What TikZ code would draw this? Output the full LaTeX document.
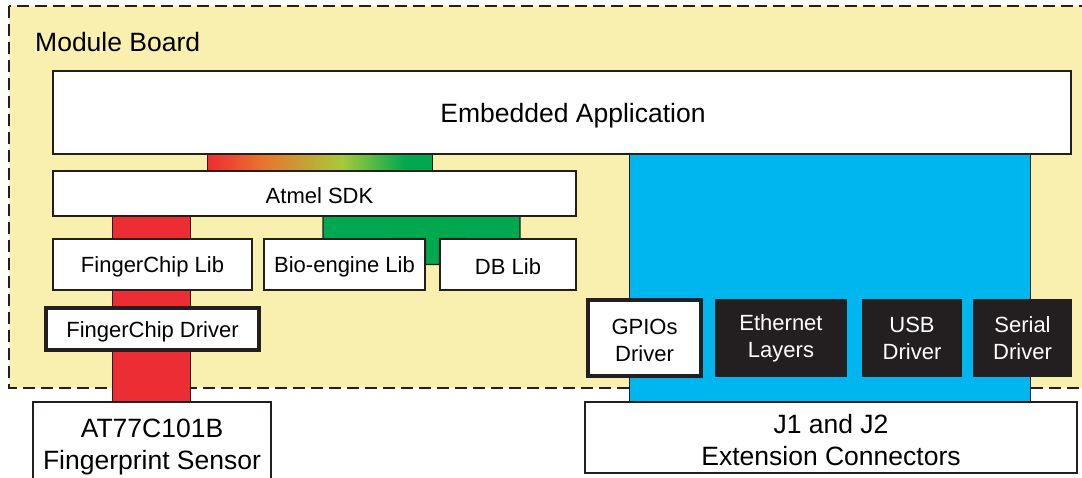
\documentclass[tikz,border=0pt]{standalone}
\usepackage{fontspec}
\setmainfont{Liberation Sans}
\usetikzlibrary{backgrounds}

\definecolor{boardyellow}{HTML}{F9F0B0}
\definecolor{ifblue}{HTML}{00B6EF}
\definecolor{fpred}{HTML}{EC2D33}
\definecolor{fporange}{HTML}{E8732F}
\definecolor{fplime}{HTML}{A6CA3A}
\definecolor{fpgreen}{HTML}{00A84F}
\definecolor{inkdark}{HTML}{231F20}

% shading is fitted to the middle half (25bp..75bp)
\pgfdeclarehorizontalshading{sdkgrad}{100bp}{color(0bp)=(fpred); color(25bp)=(fpred); color(37bp)=(fporange); color(55bp)=(fplime); color(69bp)=(fpgreen); color(75bp)=(fpgreen); color(100bp)=(fpgreen)}

% raises the first line of a box text
\newcommand{\bigtop}{\rule{0pt}{25pt}}
\newcommand{\smalltop}{\rule{0pt}{21pt}}

\tikzset{
  bigtext/.style={font=\fontsize{26.5}{32}\selectfont},
  smalltext/.style={font=\fontsize{22}{27}\selectfont},
  swbox/.style={shape=rectangle,draw=inkdark,fill=white,line width=1.2pt,align=center,inner sep=0pt},
  drvbox/.style={swbox,line width=4pt},
  hwbox/.style={shape=rectangle,fill=inkdark,text=white,align=center,inner sep=0pt},
  band/.style={draw=inkdark,line width=1.2pt}
}

\begin{document}
\begin{tikzpicture}[x=1pt,y=-1pt]
\useasboundingbox (0,0) rectangle (1082,478);

\node[swbox,bigtext,minimum width=1018pt,minimum height=83pt] (app) at (562,112.5) {\bigtop\hspace*{22pt}Embedded Application};
\node[swbox,smalltext,minimum width=523pt,minimum height=45pt] (sdk) at (314.5,193.5) {\smalltop\hspace*{10pt}Atmel SDK};
\node[swbox,smalltext,minimum width=199pt,minimum height=51pt] (fclib) at (152.5,264.5) {\smalltop FingerChip Lib};
\node[swbox,smalltext,minimum width=161pt,minimum height=51pt] (bio) at (344.5,264.5) {\smalltop Bio-engine Lib};
\node[swbox,smalltext,minimum width=136pt,minimum height=51pt] (db) at (508,264.5) {\smalltop DB Lib};
\node[drvbox,smalltext,minimum width=213pt,minimum height=42pt] (fcdrv) at (152.5,329) {\smalltop FingerChip Driver};
\node[swbox,bigtext,minimum width=238pt,minimum height=84pt] (sensor) at (152,444) {\bigtop AT77C101B\\Fingerprint Sensor};

\node[drvbox,smalltext,minimum width=113pt,minimum height=76pt] (gpio) at (644.5,338) {\smalltop GPIOs\\Driver};
\node[hwbox,smalltext,minimum width=132pt,minimum height=78pt] (eth) at (781,338) {Ethernet\\Layers};
\node[hwbox,smalltext,minimum width=100pt,minimum height=78pt] (usb) at (912,338) {USB\\Driver};
\node[hwbox,smalltext,minimum width=99pt,minimum height=78pt] (serial) at (1022.5,338) {Serial\\Driver};
\node[swbox,bigtext,minimum width=492pt,minimum height=71pt] (conn) at (831,437.5) {\bigtop J1 and J2\\Extension Connectors};

\node[bigtext,anchor=base west,inner sep=0pt] (board) at (35,52) {Module Board};

\begin{scope}[on background layer]
% module board area
\path[fill=boardyellow,draw=inkdark,line width=1.8pt,dash pattern=on 12pt off 6pt] (9,6) rectangle (1095,388);
% links between the layers
\path[band,fill=fpred] ([xshift=60pt]sdk.south west) rectangle ([xshift=158pt]sensor.north west);
\path[band,fill=fpgreen] (323,216) -- (520,216) -- (520,239) -- (db.north west) -- (db.west) -- (bio.east) -- (bio.north east) -- (323,239) -- cycle;
\path[band,fill=ifblue] ([xshift=577pt]app.south west) rectangle ([xshift=446pt]conn.north west);
\path[band,shading=sdkgrad] ([xshift=155pt]sdk.north west) rectangle ([xshift=380pt]app.south west);
\end{scope}
\end{tikzpicture}
\end{document}
